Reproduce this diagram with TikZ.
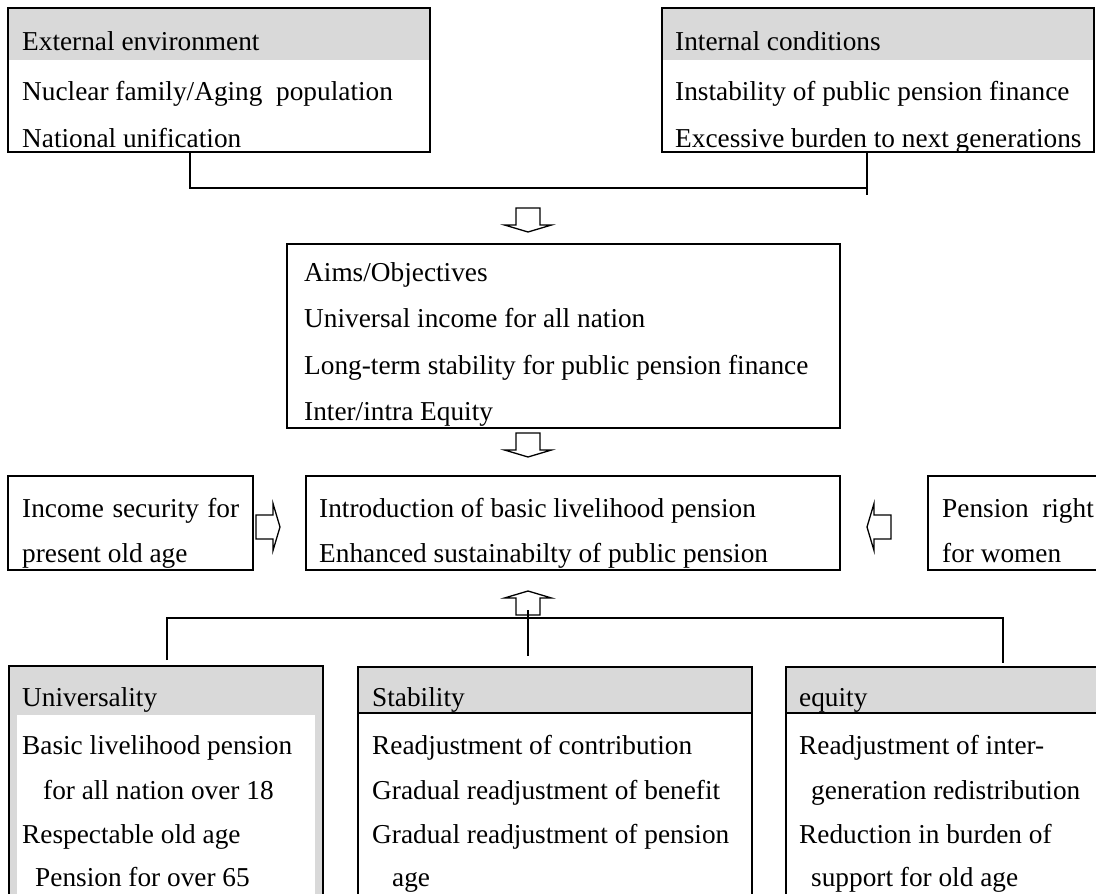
\documentclass[tikz,border=0pt]{standalone}
\usepackage{fontspec}
\setmainfont{Liberation Serif}
\definecolor{hgray}{HTML}{D9D9D9}
\begin{document}
\begin{tikzpicture}[x=1pt,y=-1pt,
  box/.style={draw, line width=2.8pt, rectangle, inner sep=0pt, outer sep=0pt, anchor=north west},
  hbox/.style={box, path picture={\fill[hgray] (path picture bounding box.north west) rectangle ([yshift=-#1]path picture bounding box.north east);}},
  gbox/.style={box, path picture={\fill[hgray] (path picture bounding box.north west) rectangle (path picture bounding box.south east);
     \fill[white] ([xshift=8pt,yshift=-49pt]path picture bounding box.north west) rectangle ([xshift=-8pt]path picture bounding box.south east);}},
  txt/.style={anchor=base west, inner sep=0pt, font=\fontsize{27.3}{32}\selectfont},
  conn/.style={line width=1.3pt},
  barrow/.style={draw, line width=1.3pt, line join=miter},
  hline/.style={line width=2pt},
  blockarr/.pic={\draw[barrow] (0,0) -- (23.5,-7) -- (12,-7) -- (12,-24) -- (-12,-24) -- (-12,-7) -- (-23.5,-7) -- cycle;}
]
\useasboundingbox (0,0) rectangle (1096,894);
\clip (0,0) rectangle (1096,894);

% boxes
\node[hbox=52pt, minimum width=422pt, minimum height=144pt] (ext) at (8,8) {};
\node[hbox=52pt, minimum width=432pt, minimum height=144pt] (int) at (662,8) {};
\node[box, minimum width=553pt, minimum height=184pt] (aims) at (287,244) {};
\node[box, minimum width=245pt, minimum height=94pt] (inc) at (8,476) {};
\node[box, minimum width=534pt, minimum height=94pt] (intro) at (306,476) {};
\node[box, minimum width=190pt, minimum height=94pt] (wom) at (928,476) {};
\node[gbox, minimum width=314pt, minimum height=260pt] (univ) at (9,666) {};
\node[hbox=46pt, minimum width=394pt, minimum height=260pt] (stab) at (358,667) {};
\node[hbox=46pt, minimum width=330pt, minimum height=260pt] (equ) at (786,667) {};
\draw[hline] ([yshift=-46pt]stab.north west) -- ([yshift=-46pt]stab.north east);
\draw[hline] ([yshift=-46pt]equ.north west) -- ([yshift=-46pt]equ.north east);

% texts
\node[txt] (e1) at (22,50) {External environment};
\node[txt] (e2) at (22,100) {Nuclear family/Aging\ \ population};
\node[txt] (e3) at (22,147) {National unification};
\node[txt] (i1) at (675,50) {Internal conditions};
\node[txt] (i2) at (675,100) {Instability of public pension finance};
\node[txt] (i3) at (675,147) {Excessive burden to next generations};
\node[txt] (a1) at (304,281) {Aims/Objectives};
\node[txt] (a2) at (304,327) {Universal income for all nation};
\node[txt] (a3) at (304,374) {Long-term stability for public pension finance};
\node[txt] (a4) at (304,420) {Inter/intra Equity};
\node[txt] (c1) at (22,517) {\makebox[217pt][s]{Income security for}};
\node[txt] (c2) at (22,562) {present old age};
\node[txt] (n1) at (319,517) {Introduction of basic livelihood pension};
\node[txt] (n2) at (319,562) {Enhanced sustainabilty of public pension};
\node[txt] (w1) at (942,517) {Pension\ \ right};
\node[txt] (w2) at (942,562) {for women};
\node[txt] (u1) at (22,706) {Universality};
\node[txt] (u2) at (22,754) {Basic livelihood pension};
\node[txt] (u3) at (43,799) {for all nation over 18};
\node[txt] (u4) at (22,843) {Respectable old age};
\node[txt] (u5) at (35,886) {Pension for over 65};
\node[txt] (s1) at (372,706) {Stability};
\node[txt] (s2) at (372,754) {Readjustment of contribution};
\node[txt] (s3) at (372,799) {Gradual readjustment of benefit};
\node[txt] (s4) at (372,843) {Gradual readjustment of pension};
\node[txt] (s5) at (392,886) {age};
\node[txt] (q1) at (799,706) {equity};
\node[txt] (q2) at (799,754) {Readjustment of inter-};
\node[txt] (q3) at (811,799) {generation redistribution};
\node[txt] (q4) at (799,843) {Reduction in burden of};
\node[txt] (q5) at (811,886) {support for old age};

% block arrows
\pic (darr1) at (528,232) {blockarr};
\pic (darr2) at (528,457) {blockarr};
\pic[rotate=90] (rarr) at (280,527) {blockarr};
\pic[rotate=-90] (larr) at (867,527) {blockarr};
\pic[rotate=180] (uarr) at (528,591) {blockarr};

% connectors
\coordinate (j1) at (190,188);
\coordinate (j2) at (867,188);
\coordinate (j2e) at (867,195);
\draw[conn] (ext.south -| j1) -- (j1) -- (j2);
\draw[conn] (int.south -| j2) -- (j2e);
\coordinate (k1) at (167,618);
\coordinate (k3) at (1003,618);
\coordinate (k1e) at (167,660);
\coordinate (k3e) at (1003,663);
\coordinate (k2) at (528,610);
\coordinate (k2e) at (528,656);
\draw[conn] (k1e) -- (k1) -- (k3) -- (k3e);
\draw[conn] (k2) -- (k2e);
\end{tikzpicture}
\end{document}
